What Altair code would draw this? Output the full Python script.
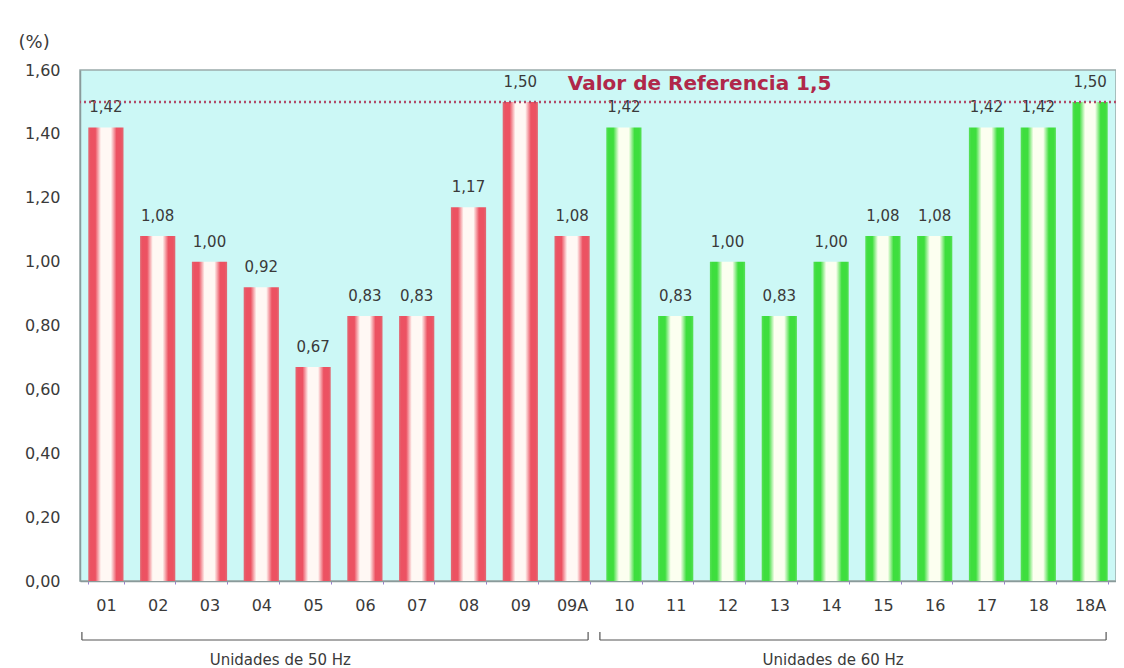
import altair as alt
import pandas as pd

unidades = ["01", "02", "03", "04", "05", "06", "07", "08", "09", "09A",
            "10", "11", "12", "13", "14", "15", "16", "17", "18", "18A"]
valores = [1.42, 1.08, 1.00, 0.92, 0.67, 0.83, 0.83, 1.17, 1.50, 1.08,
           1.42, 0.83, 1.00, 0.83, 1.00, 1.08, 1.08, 1.42, 1.42, 1.50]
grupos = ["50 Hz"] * 10 + ["60 Hz"] * 10
referencia = 1.5
ref_texto = "Valor de Referencia 1,5"
y_ticks = [0.0, 0.2, 0.4, 0.6, 0.8, 1.0, 1.2, 1.4, 1.6]

grupo_nombres = ["Unidades de 50 Hz", "Unidades de 60 Hz"]
grupo_primero = ["01", "10"]
grupo_ultimo = ["09A", "18A"]
grupo_ancla = ["04", "14"]

df = pd.DataFrame({"unidad": unidades, "valor": valores, "grupo": grupos})
df_ref = pd.DataFrame({"valor": [referencia], "texto": [ref_texto], "ancla": ["11"]})
df_grp = pd.DataFrame({"nombre": grupo_nombres, "primero": grupo_primero,
                       "ultimo": grupo_ultimo, "ancla": grupo_ancla})

FONT = "DejaVu Sans"
W, H = 1036, 511

xscale = alt.Scale(domain=unidades, paddingInner=0.32, paddingOuter=0.16)
yscale = alt.Scale(domain=[0, 1.6], nice=False)

def grad(edge, mid, center):
    return alt.Gradient(
        gradient="linear", x1=0, x2=1, y1=0, y2=0,
        stops=[
            alt.GradientStop(offset=0.0, color=edge),
            alt.GradientStop(offset=0.07, color=mid),
            alt.GradientStop(offset=0.2, color=mid),
            alt.GradientStop(offset=0.36, color=center),
            alt.GradientStop(offset=0.64, color=center),
            alt.GradientStop(offset=0.8, color=mid),
            alt.GradientStop(offset=0.93, color=mid),
            alt.GradientStop(offset=1.0, color=edge),
        ])

base = alt.Chart(df)

x_enc = alt.X("unidad:N", scale=xscale, sort=unidades, title=None,
              axis=alt.Axis(labelAngle=0, labelFont=FONT, labelFontSize=16,
                            labelColor="#3a3a3a", labelPadding=13,
                            ticks=True, tickBand="extent", tickSize=3,
                            tickColor="#9a7fd0", domainColor="#8a9a9a",
                            domainWidth=1.5))
y_enc = alt.Y("valor:Q", scale=yscale,
              axis=alt.Axis(values=y_ticks, title="(%)", titleAngle=0,
                            titleAlign="left", titleBaseline="middle",
                            titleX=-62, titleY=-28, titleFont=FONT,
                            titleFontSize=18, titleFontWeight="normal",
                            titleColor="#3a3a3a",
                            labelExpr="replace(format(datum.value, '.2f'), '.', ',')",
                            labelFont=FONT, labelFontSize=16, labelColor="#3a3a3a",
                            labelPadding=20, ticks=False, grid=False,
                            domainColor="#8a9a9a", domainWidth=1.5))

bars50 = base.transform_filter(alt.datum.grupo == "50 Hz").mark_bar(
    fill=grad("#e06a74", "#ec5262", "#fff8f4")
).encode(x=x_enc, y=y_enc)

bars60 = base.transform_filter(alt.datum.grupo == "60 Hz").mark_bar(
    fill=grad("#58e058", "#3ede3e", "#fcfff0")
).encode(x=alt.X("unidad:N", scale=xscale, sort=unidades),
         y=alt.Y("valor:Q", scale=yscale))

labels = base.transform_calculate(
    lbl="replace(format(datum.valor, '.2f'), '.', ',')"
).mark_text(font=FONT, fontSize=15, color="#3a3a3a", baseline="middle", dy=-20).encode(
    x=alt.X("unidad:N", scale=xscale, sort=unidades),
    y=alt.Y("valor:Q", scale=yscale),
    text="lbl:N")

ref_line = alt.Chart(df_ref).mark_rule(
    color="#b04a68", strokeWidth=2.5, strokeDash=[2, 3]
).encode(y=alt.Y("valor:Q", scale=yscale))

ref_text = alt.Chart(df_ref).mark_text(
    font=FONT, fontSize=20, fontWeight="bold", color="#b0284a",
    baseline="middle", dx=24, dy=-18
).encode(x=alt.X("ancla:N", scale=xscale, sort=unidades),
         y=alt.Y("valor:Q", scale=yscale), text="texto:N")

br_h = alt.Chart(df_grp).mark_rule(color="#555555", strokeWidth=1.2,
                                   xOffset=-24, x2Offset=16).encode(
    x=alt.X("primero:N", scale=xscale, sort=unidades),
    x2="ultimo:N", y=alt.value(H + 59))
br_l = alt.Chart(df_grp).mark_rule(color="#555555", strokeWidth=1.2, xOffset=-24).encode(
    x=alt.X("primero:N", scale=xscale, sort=unidades),
    y=alt.value(H + 51), y2=alt.value(H + 59))
br_r = alt.Chart(df_grp).mark_rule(color="#555555", strokeWidth=1.2, xOffset=16).encode(
    x=alt.X("ultimo:N", scale=xscale, sort=unidades),
    y=alt.value(H + 51), y2=alt.value(H + 59))

def grp_label(nombre, dx):
    return alt.Chart(df_grp).transform_filter(alt.datum.nombre == nombre).mark_text(
        font=FONT, fontSize=15, color="#3a3a3a", baseline="middle", dx=dx
    ).encode(x=alt.X("ancla:N", scale=xscale, sort=unidades),
             y=alt.value(H + 79), text="nombre:N")

grp_text50 = grp_label(grupo_nombres[0], 19)
grp_text60 = grp_label(grupo_nombres[1], 2)

chart = alt.layer(bars50, bars60, labels, ref_line, ref_text,
                  br_h, br_l, br_r, grp_text50, grp_text60).properties(
    width=W, height=H,
    autosize=alt.AutoSizeParams(type="none"),
    padding={"left": 72, "top": 62, "right": 0, "bottom": 87},
    background="white",
).configure_view(fill="#ccf8f6", stroke="#9aaaaa", strokeWidth=1.5)

chart.save("out.html", embed_options={"renderer": "svg", "actions": False})
